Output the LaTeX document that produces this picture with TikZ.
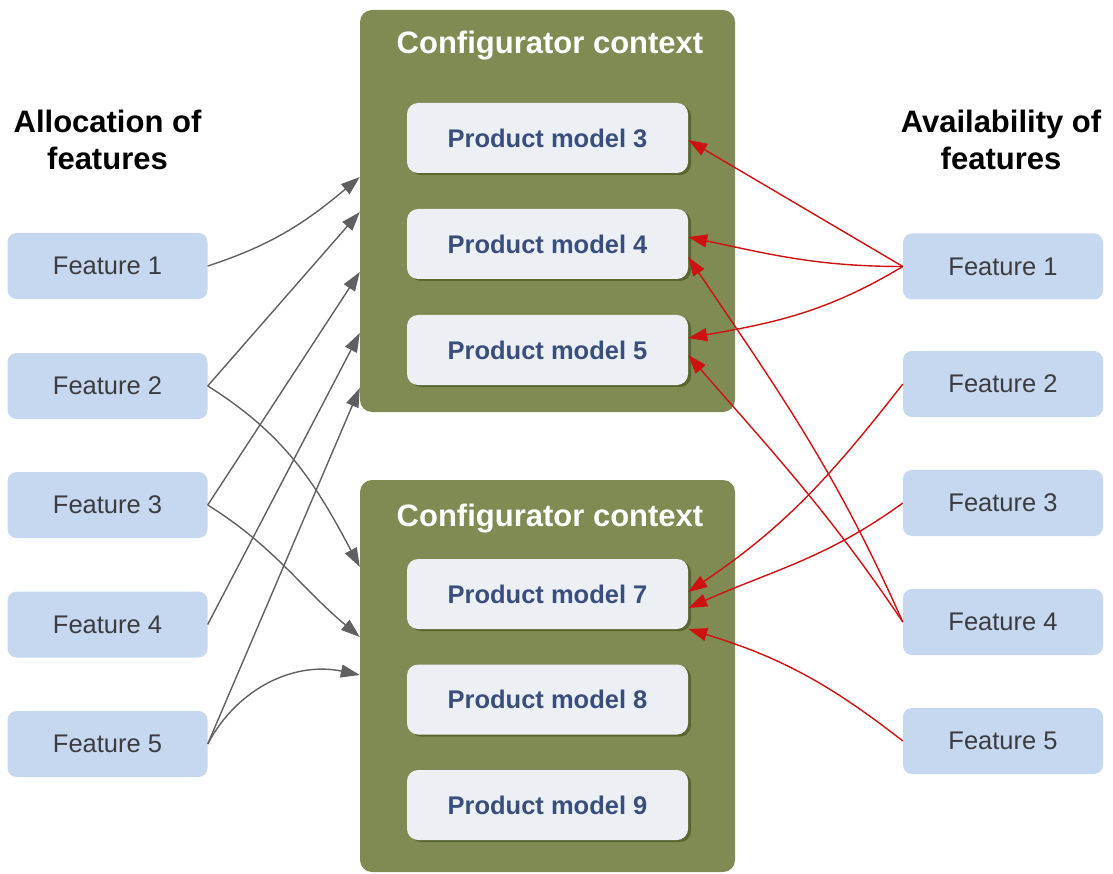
\documentclass[tikz,border=0pt]{standalone}
\usepackage{fontspec}
\setmainfont{Liberation Sans}
\usetikzlibrary{arrows.meta,shadows}

\definecolor{ctxgreen}{RGB}{127,139,82}
\definecolor{ctxshadow}{RGB}{88,102,46}
\definecolor{pmfill}{RGB}{236,240,245}
\definecolor{pmtext}{RGB}{58,78,125}
\definecolor{featblue}{RGB}{198,216,240}
\definecolor{feattext}{RGB}{60,60,64}
\definecolor{allocgray}{RGB}{96,96,96}
\definecolor{availred}{RGB}{206,17,17}

\begin{document}
\begin{tikzpicture}[x=1pt,y=1pt,
  feat/.style={fill=featblue, rounded corners=9pt, minimum width=200pt,
    minimum height=66pt, inner sep=0pt, text=feattext,
    font=\fontsize{25.5}{30}\selectfont},
  ctx/.style={fill=ctxgreen, rounded corners=12pt, minimum width=375pt,
    inner sep=0pt},
  pm/.style={fill=pmfill, rounded corners=11pt, minimum width=281pt,
    minimum height=70pt, inner sep=0pt, text=pmtext,
    font=\fontsize{25.5}{30}\selectfont\bfseries,
    drop shadow={shadow xshift=3pt, shadow yshift=-2pt, fill=ctxshadow, opacity=1}},
  head/.style={font=\fontsize{31}{37}\selectfont\bfseries, align=center,
    inner sep=0pt},
  ctxtitle/.style={text=white, font=\fontsize{31}{37}\selectfont\bfseries,
    inner sep=0pt},
  tip/.style={-{Triangle[length=19pt,width=13pt]}},
  alloc/.style={draw=allocgray, line width=1.4pt, tip},
  avail/.style={draw=availred, line width=1.4pt, tip}
]
\useasboundingbox (0,0) rectangle (1113,-874);

% headings
\node[head] (hl) at (107.5,-139.5) {Allocation of\\features};
\node[head] (hr) at (1001,-139.5) {Availability of\\features};

% configurator contexts
\node[ctx, minimum height=402pt] (ctx1) at (547.5,-211) {};
\node[ctx, minimum height=392pt] (ctx2) at (547.5,-676) {};
\node[ctxtitle] (t1) at (550,-46) {Configurator context};
\node[ctxtitle] (t2) at (550,-519) {Configurator context};

% product models
\node[pm] (pm3) at (547.5,-138)   {Product model 3};
\node[pm] (pm4) at (547.5,-244)   {Product model 4};
\node[pm] (pm5) at (547.5,-350)   {Product model 5};
\node[pm] (pm7) at (547.5,-594)   {Product model 7};
\node[pm] (pm8) at (547.5,-699.5) {Product model 8};
\node[pm] (pm9) at (547.5,-805)   {Product model 9};

% features, left
\node[feat] (lf1) at (107.5,-266)   {Feature 1};
\node[feat] (lf2) at (107.5,-386)   {Feature 2};
\node[feat] (lf3) at (107.5,-505)   {Feature 3};
\node[feat] (lf4) at (107.5,-624.5) {Feature 4};
\node[feat] (lf5) at (107.5,-744)   {Feature 5};

% features, right
\node[feat] (rf1) at (1003,-266.5) {Feature 1};
\node[feat] (rf2) at (1003,-384)   {Feature 2};
\node[feat] (rf3) at (1003,-503)   {Feature 3};
\node[feat] (rf4) at (1003,-622)   {Feature 4};
\node[feat] (rf5) at (1003,-741)   {Feature 5};

% arrow targets on the context borders
\coordinate (a1) at (ctx1.west |- 0,-177);
\coordinate (a2) at (ctx1.west |- 0,-212);
\coordinate (a3) at (ctx1.west |- 0,-272);
\coordinate (a4) at (ctx1.west |- 0,-333);
\coordinate (a5) at (ctx1.west |- 0,-388);
\coordinate (b1) at (ctx2.west |- 0,-567);
\coordinate (b2) at (ctx2.west |- 0,-637);
\coordinate (b3) at (ctx2.west |- 0,-675);

% arrow targets on the product models
\coordinate (p3) at (pm3.east |- 0,-140);
\coordinate (p4a) at (pm4.east |- 0,-237);
\coordinate (p4b) at (pm4.east |- 0,-257);
\coordinate (p5a) at (pm5.east |- 0,-338);
\coordinate (p5b) at (pm5.east |- 0,-355);
\coordinate (p7a) at (pm7.east |- 0,-592);
\coordinate (p7b) at (pm7.east |- 0,-608);
\coordinate (p7c) at (pm7.east |- 0,-629);

% allocation of features
\draw[alloc] (lf1.east) to[out=18,in=-140] (a1);
\draw[alloc] (lf2.east) -- (a2);
\draw[alloc] (lf3.east) -- (a3);
\draw[alloc] (lf4.east) -- (a4);
\draw[alloc] (lf5.east) -- (a5);
\draw[alloc] (lf2.east) to[out=-32,in=118] (b1);
\draw[alloc] (lf3.east) to[out=-32,in=140] (b2);
\draw[alloc] (lf5.east) to[out=62,in=168] (b3);

% availability of features
\draw[avail] (rf1.west) -- (p3);
\draw[avail] (rf1.west) to[out=180,in=-12] (p4a);
\draw[avail] (rf1.west) to[out=211,in=10] (p5a);
\draw[avail] (rf4.west) to[out=114,in=-56] (p4b);
\draw[avail] (rf4.west) to[out=124,in=-49] (p5b);
\draw[avail] (rf2.west) to[out=232,in=34] (p7a);
\draw[avail] (rf3.west) to[out=216,in=24] (p7b);
\draw[avail] (rf5.west) to[out=142,in=-17] (p7c);
\end{tikzpicture}
\end{document}
